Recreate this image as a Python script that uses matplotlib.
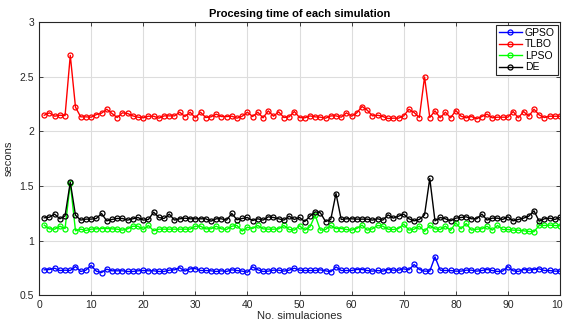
import numpy as np
import matplotlib
matplotlib.use("Agg")
import matplotlib.pyplot as plt

plt.rcParams['font.family'] = ['Liberation Sans', 'DejaVu Sans']

# Processing time per simulation (seconds)
sims = np.arange(1, 101)

gpso = [0.731, 0.734, 0.746, 0.725, 0.728, 0.725, 0.761, 0.716, 0.728, 0.771,
        0.719, 0.706, 0.737, 0.722, 0.722, 0.722, 0.716, 0.716, 0.722, 0.725,
        0.722, 0.722, 0.716, 0.716, 0.728, 0.731, 0.750, 0.719, 0.740, 0.743,
        0.725, 0.725, 0.722, 0.716, 0.722, 0.716, 0.731, 0.725, 0.719, 0.709,
        0.758, 0.731, 0.716, 0.719, 0.728, 0.728, 0.719, 0.728, 0.746, 0.728,
        0.725, 0.725, 0.725, 0.731, 0.722, 0.713, 0.758, 0.725, 0.725, 0.725,
        0.734, 0.734, 0.725, 0.719, 0.725, 0.719, 0.734, 0.728, 0.728, 0.740,
        0.731, 0.780, 0.734, 0.719, 0.719, 0.850, 0.728, 0.725, 0.725, 0.719,
        0.719, 0.728, 0.728, 0.719, 0.725, 0.734, 0.725, 0.716, 0.719, 0.761,
        0.722, 0.716, 0.734, 0.728, 0.734, 0.740, 0.725, 0.725, 0.719, 0.719]

tlbo = [2.149, 2.171, 2.140, 2.149, 2.146, 2.698, 2.223, 2.134, 2.134, 2.131,
        2.155, 2.168, 2.204, 2.165, 2.128, 2.171, 2.165, 2.143, 2.131, 2.125,
        2.140, 2.140, 2.122, 2.143, 2.143, 2.143, 2.177, 2.137, 2.177, 2.125,
        2.177, 2.128, 2.134, 2.159, 2.137, 2.137, 2.140, 2.122, 2.140, 2.177,
        2.137, 2.177, 2.125, 2.189, 2.140, 2.180, 2.128, 2.134, 2.183, 2.128,
        2.125, 2.143, 2.134, 2.131, 2.122, 2.143, 2.143, 2.131, 2.171, 2.140,
        2.171, 2.229, 2.195, 2.143, 2.149, 2.137, 2.119, 2.122, 2.122, 2.143,
        2.204, 2.174, 2.128, 2.500, 2.128, 2.189, 2.125, 2.177, 2.125, 2.192,
        2.140, 2.125, 2.137, 2.116, 2.137, 2.159, 2.125, 2.131, 2.131, 2.131,
        2.183, 2.125, 2.183, 2.140, 2.204, 2.152, 2.128, 2.140, 2.140, 2.140]

lpso = [1.141, 1.107, 1.104, 1.131, 1.110, 1.529, 1.089, 1.104, 1.092, 1.104,
        1.107, 1.110, 1.110, 1.107, 1.104, 1.095, 1.107, 1.131, 1.131, 1.101,
        1.138, 1.089, 1.104, 1.104, 1.104, 1.104, 1.104, 1.104, 1.104, 1.131,
        1.131, 1.107, 1.107, 1.131, 1.107, 1.101, 1.131, 1.138, 1.086, 1.122,
        1.110, 1.138, 1.107, 1.104, 1.104, 1.107, 1.138, 1.101, 1.095, 1.135,
        1.095, 1.125, 1.232, 1.095, 1.101, 1.138, 1.110, 1.110, 1.101, 1.095,
        1.110, 1.141, 1.095, 1.107, 1.138, 1.131, 1.104, 1.101, 1.110, 1.150,
        1.095, 1.104, 1.131, 1.083, 1.138, 1.107, 1.101, 1.131, 1.092, 1.162,
        1.107, 1.156, 1.095, 1.104, 1.107, 1.131, 1.095, 1.138, 1.101, 1.101,
        1.095, 1.095, 1.089, 1.083, 1.080, 1.138, 1.138, 1.141, 1.138, 1.135]

de = [1.208, 1.214, 1.242, 1.199, 1.226, 1.535, 1.232, 1.187, 1.196, 1.196,
      1.202, 1.248, 1.180, 1.193, 1.202, 1.202, 1.187, 1.199, 1.211, 1.187,
      1.193, 1.260, 1.211, 1.202, 1.242, 1.187, 1.199, 1.205, 1.199, 1.199,
      1.199, 1.199, 1.177, 1.199, 1.199, 1.187, 1.248, 1.190, 1.202, 1.211,
      1.183, 1.199, 1.187, 1.217, 1.211, 1.199, 1.187, 1.223, 1.193, 1.211,
      1.174, 1.223, 1.263, 1.254, 1.174, 1.193, 1.431, 1.193, 1.199, 1.199,
      1.196, 1.196, 1.196, 1.187, 1.199, 1.187, 1.235, 1.205, 1.223, 1.242,
      1.199, 1.180, 1.193, 1.235, 1.569, 1.180, 1.211, 1.199, 1.180, 1.205,
      1.211, 1.217, 1.199, 1.199, 1.242, 1.187, 1.205, 1.205, 1.193, 1.217,
      1.180, 1.193, 1.205, 1.223, 1.272, 1.177, 1.199, 1.205, 1.193, 1.211]

series = [("GPSO", gpso, "#0000ff"),
          ("TLBO", tlbo, "#ff0000"),
          ("LPSO", lpso, "#00ff00"),
          ("DE", de, "#000000")]

fig = plt.figure(figsize=(5.63, 3.30), dpi=100)
ax = fig.add_axes([0.0693, 0.106, 0.9254, 0.826])

for name, vals, col in series:
    ax.plot(sims, vals, color=col, marker='o', markersize=3.6,
            markerfacecolor='none', markeredgewidth=0.9, linewidth=1.0, label=name)

ax.set_xlim(0, 100)
ax.set_ylim(0.5, 3)
ax.set_xticks(np.arange(0, 101, 10))
ax.set_yticks([0.5, 1, 1.5, 2, 2.5, 3])
ax.set_yticklabels(["0.5", "1", "1.5", "2", "2.5", "3"])
ax.grid(True, color='#dddddd', linewidth=0.8)
ax.set_axisbelow(True)
ax.tick_params(direction='in', top=True, right=True, labelsize=7.5,
               colors='#262626', length=3, width=0.6)
for sp in ax.spines.values():
    sp.set_color('#262626')
    sp.set_linewidth(0.8)

ax.set_title("Procesing time of each simulation", fontsize=8, fontweight='bold', pad=4)
ax.set_xlabel("No. simulaciones", fontsize=8, labelpad=1, color='#262626')
ax.set_ylabel("secons", fontsize=8, labelpad=4, color='#262626')

leg = ax.legend(loc='upper right', fontsize=7.5, fancybox=False, framealpha=1,
                edgecolor='#262626', handlelength=2.2, borderpad=0.3,
                labelspacing=0.15, handletextpad=0.3, borderaxespad=0.2)
leg.get_frame().set_linewidth(0.8)

fig.savefig("out.png", dpi=100)
